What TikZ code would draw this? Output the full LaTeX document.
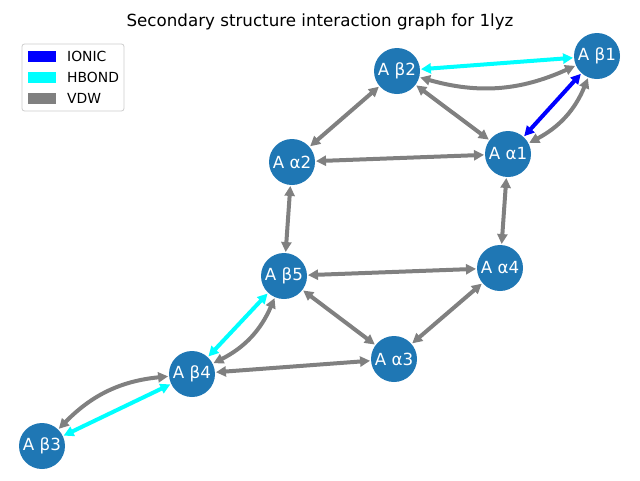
\documentclass[tikz,border=0pt]{standalone}
\usepackage{fontspec}
\setmainfont{DejaVu Sans}
\usetikzlibrary{arrows.meta}
\definecolor{nodeblue}{HTML}{1F77B4}
\definecolor{vdwgray}{HTML}{808080}
\definecolor{hcyan}{HTML}{00FFFF}
\definecolor{ionblue}{HTML}{0000FF}
\definecolor{legframe}{HTML}{CCCCCC}
\tikzset{
  ss/.style={circle, fill=nodeblue, minimum size=46pt, inner sep=0pt, outer sep=1pt,
    text=white, font=\fontsize{16.7}{20}\selectfont},
  edge/.style={line width=4pt, {Triangle[length=10pt,width=10pt]}-{Triangle[length=10pt,width=10pt]}},
  vdw/.style={edge, draw=vdwgray},
  hb/.style={edge, draw=hcyan},
  ion/.style={edge, draw=ionblue},
  legtext/.style={anchor=west, inner sep=0pt, font=\fontsize{13.9}{16}\selectfont},
}
\begin{document}
\begin{tikzpicture}[x=1pt,y=1pt]
\useasboundingbox (0,0) rectangle (640,-480);
\node[font=\fontsize{16.7}{20}\selectfont] (title) at (320,-22) {Secondary structure interaction graph for 1lyz};

\node[ss] (b1) at (597,-56) {A β1};
\node[ss] (b2) at (397,-71) {A β2};
\node[ss] (a1) at (508,-154) {A α1};
\node[ss] (a2) at (292,-162) {A α2};
\node[ss] (a4) at (500,-268) {A α4};
\node[ss] (b5) at (284,-276) {A β5};
\node[ss] (a3) at (394,-359) {A α3};
\node[ss] (b4) at (192,-374) {A β4};
\node[ss] (b3) at (42,-446) {A β3};

\draw[hb] (b2) -- (b1);
\draw[vdw] (b2) to[bend right=20] (b1);
\draw[ion] (b1) -- (a1);
\draw[vdw] (b1) to[bend left=20] (a1);
\draw[vdw] (b2) -- (a1);
\draw[vdw] (b2) -- (a2);
\draw[vdw] (a2) -- (a1);
\draw[vdw] (a2) -- (b5);
\draw[vdw] (a1) -- (a4);
\draw[vdw] (b5) -- (a4);
\draw[vdw] (b5) -- (a3);
\draw[vdw] (a4) -- (a3);
\draw[hb] (b5) -- (b4);
\draw[vdw] (b5) to[bend left=20] (b4);
\draw[vdw] (b4) -- (a3);
\draw[hb] (b4) -- (b3);
\draw[vdw] (b4) to[bend right=20] (b3);

\draw[draw=legframe, line width=0.8pt, fill=white, rounded corners=2.5pt] (22,-44) rectangle (124,-111);
\fill[ionblue] (28,-51) rectangle (56,-62);
\fill[hcyan] (28,-72) rectangle (56,-83);
\fill[vdwgray] (28,-93) rectangle (56,-104);
\node[legtext] (lion) at (67,-56.5) {IONIC};
\node[legtext] (lhb) at (67,-77.5) {HBOND};
\node[legtext] (lvdw) at (67,-98.5) {VDW};
\end{tikzpicture}
\end{document}
